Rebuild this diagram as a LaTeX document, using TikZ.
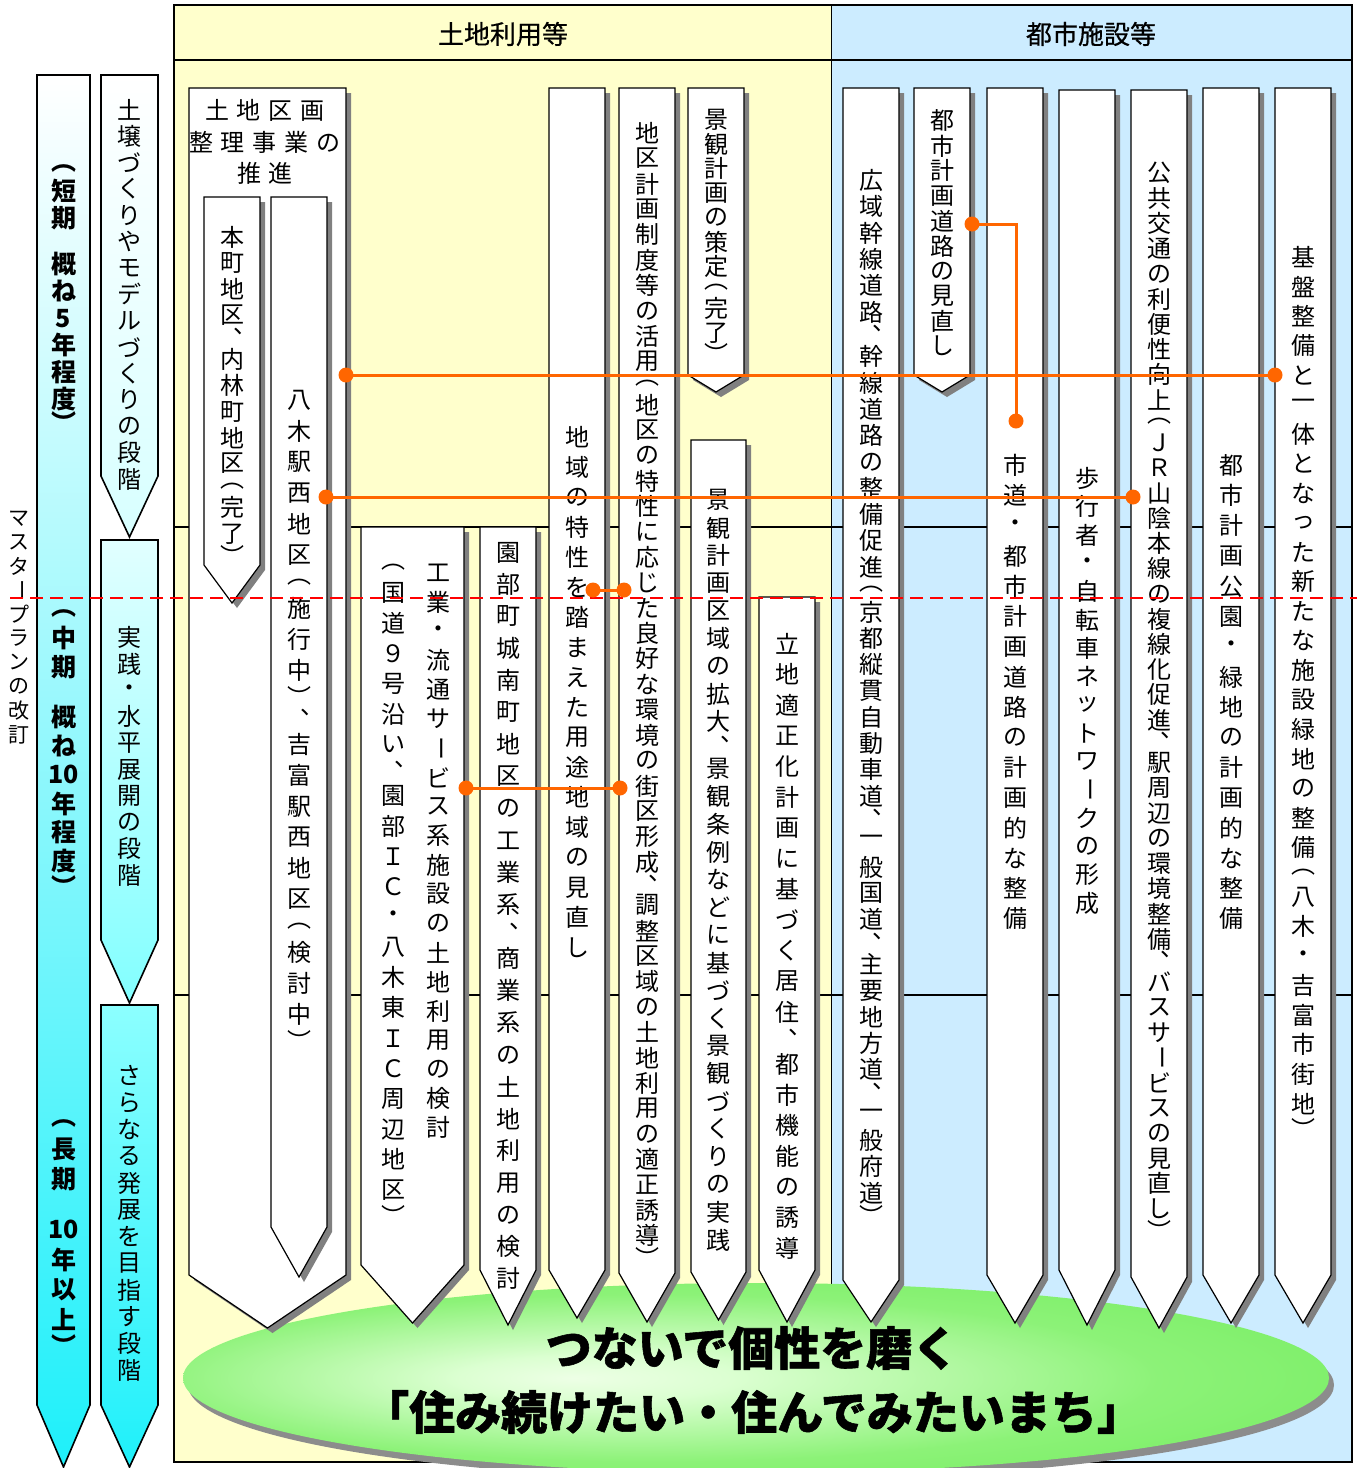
\documentclass[tikz,border=0pt]{standalone}
\usepackage{fontspec}
\setmainfont{Noto Sans CJK JP}
\usepackage{graphicx}
\usetikzlibrary{shadows}

\definecolor{ylw}{RGB}{255,255,204}
\definecolor{blu}{RGB}{204,236,255}
\definecolor{org}{RGB}{255,102,0}
\definecolor{cyn}{RGB}{30,240,250}

\newcommand\jLP{︵}
\newcommand\jRP{︶}
\newcommand\jVB{\rotatebox[origin=c]{-90}{ー}}
\newcommand\jSP{}
\newcommand\jCM{\hbox to 1em{\vrule width 0pt height 0.3em depth 0.3em\kern0.58em\smash{\raisebox{0.15em}{、}}\hss}}

\ExplSyntaxOn
\dim_new:N \l_vj_p_dim
\cs_new_protected:Npn \vj_cell:nn #1#2
  { \hbox_to_wd:nn {1.25em} { \hss \vbox_to_ht:nn {#1} { \vss \hbox:n {#2} \vss } \hss } }
\NewDocumentCommand \jvert { m m }
  {
    \dim_set:Nn \l_vj_p_dim { #1 pt / 2 }
    \vbox:n
      {
        \offinterlineskip
        \tl_map_inline:nn {#2}
          {
            \str_case:nnF {##1}
              {
                { \jLP } { \vj_cell:nn { 0.7\l_vj_p_dim } {##1} }
                { \jRP } { \vj_cell:nn { 0.7\l_vj_p_dim } {##1} }
                { \jCM } { \vj_cell:nn { 0.7\l_vj_p_dim } {##1} }
                { \jSP } { \vj_cell:nn { 0.7\l_vj_p_dim } {} }
              }
              { \vj_cell:nn { \l_vj_p_dim } {##1} }
          }
      }
  }
\NewDocumentCommand \jhcells { m m }
  { \tl_map_inline:nn {#2} { \hbox_to_wd:nn {#1} { \hss ##1 \hss } } }
\ExplSyntaxOff

\pgfdeclareradialshading{glow}{\pgfpoint{-8bp}{0bp}}{rgb(0bp)=(0.93,1,0.9);rgb(6bp)=(0.86,1,0.82);rgb(22bp)=(0.55,0.95,0.47);rgb(50bp)=(0.36,0.91,0.28)}

\newcommand\pent[6][colbox]{\path[#1] (#2,#4) -- (#3,#4) -- (#3,#5) -- ({(#2+#3)/2},#6) -- (#2,#5) -- cycle;}

\begin{document}
\begin{tikzpicture}[x=0.5pt,y=-0.5pt,
  colbox/.style={draw=black,line width=0.6pt,fill=white,
    drop shadow={shadow xshift=2.5pt,shadow yshift=-2.5pt,fill=black!50,opacity=1}},
  barbox/.style={draw=black,line width=0.8pt},
  vtxt/.style={inner sep=0pt,anchor=north,font=\fontsize{12pt}{14pt}\selectfont},
  btxt/.style={inner sep=0pt,anchor=north,font=\bfseries\fontsize{12.5pt}{14pt}\selectfont},
  hdr/.style={font=\fontsize{13pt}{15pt}\selectfont\addfontfeature{FakeBold=0.6}},
  conn/.style={draw=org,line width=1.5pt},
  slogan/.style={inner sep=0pt,font=\bfseries\fontsize{23pt}{27pt}\selectfont\addfontfeature{FakeBold=1.2}}]

\useasboundingbox (0,0) rectangle (1357,1468);

% frame and backgrounds
\fill[ylw] (174,5) rectangle (831,1462);
\fill[blu] (831,5) rectangle (1352,1462);
\draw[line width=0.75pt] (174,527) -- (1352,527);
\draw[line width=0.75pt] (174,995) -- (1352,995);
\draw[line width=0.5pt] (831,5) -- (831,1462);
\draw[line width=1.2pt] (174,60) -- (1352,60);
\draw[line width=1.2pt] (174,5) rectangle (1352,1462);
\node[hdr] (hdrL) at (503,34) {土地利用等};
\node[hdr] (hdrR) at (1091,34) {都市施設等};

% left bars
\pent[barbox,top color=white,middle color={rgb,255:red,190;green,255;blue,255},bottom color=cyn]{37}{90}{75}{1405}{1467}
\pent[barbox,top color=white,bottom color={rgb,255:red,215;green,255;blue,255}]{101}{158}{75}{476}{537}
\pent[barbox,top color={rgb,255:red,225;green,255;blue,255},bottom color={rgb,255:red,130;green,255;blue,255}]{101}{158}{540}{940}{1003}
\pent[barbox,top color={rgb,255:red,140;green,255;blue,255},bottom color=cyn]{101}{158}{1005}{1405}{1467}

\node[btxt] (tShort) at (63.5,158.5) {\jvert{27}{\jLP 短期\jSP 概ね5年程度\jRP}};
\node[btxt] (tMid) at (63.5,603) {\jvert{29}{\jLP 中期\jSP 概ね{10}年程度\jRP}};
\node[btxt] (tLong) at (63.5,1112.5) {\jvert{30}{\jLP 長期\jSP {10}年以上\jRP}};
\node[vtxt] (tS1) at (129.5,96) {\jvert{26.4}{土壌づくりやモデルづくりの段階}};
\node[vtxt] (tS2) at (129.5,624) {\jvert{26.4}{実践・水平展開の段階}};
\node[vtxt] (tS3) at (129.5,1062) {\jvert{26.8}{さらなる発展を目指す段階}};
\node[vtxt,font=\fontsize{10.5pt}{12pt}\selectfont] (tMP) at (19,506) {\jvert{24}{マスタ\jVB プランの改訂}};

% ellipse
\fill[black!45] (761,1385) ellipse [x radius=286.5pt,y radius=47.5pt];
\path[shading=glow] (756,1378) ellipse [x radius=286.5pt,y radius=47.5pt];

% columns
\pent{189}{346}{88}{1275}{1328}
\pent{204}{260}{197}{565}{603}
\pent{271}{327}{197}{1227}{1277}
\pent{361}{464}{527}{1265}{1323}
\pent{480}{536}{527}{1270}{1325}
\pent{549}{605}{88}{1270}{1318}
\pent{619}{675}{88}{1273}{1322}
\pent{688}{744}{88}{375}{392}
\pent{691}{746}{440}{1272}{1320}
\pent{759}{815}{597}{1270}{1322}
\pent{843}{899}{88}{1280}{1322}
\pent{914}{970}{88}{375}{392}
\pent{987}{1043}{88}{1275}{1323}
\pent{1059}{1115}{90}{1270}{1325}
\pent{1131}{1187}{90}{1277}{1328}
\pent{1203}{1259}{88}{1275}{1323}
\pent{1275}{1331}{88}{1275}{1323}

% column texts
\node[inner sep=0pt,align=center,font=\fontsize{12pt}{15.75pt}\selectfont] (tAh) at (265,142)
  {\jhcells{16pt}{土地区画}\\\jhcells{16pt}{整理事業の}\\\jhcells{16pt}{推進}};
\node[vtxt] (tA1) at (232,224) {\jvert{26}{本町地区\jCM 内林町地区\jLP 完了\jRP}};
\node[vtxt] (tA2) at (299,384.5) {\jvert{31}{八木駅西地区\jLP 施行中\jRP\jCM 吉富駅西地区\jLP 検討中\jRP}};
\node[vtxt] (tBr) at (438,558) {\jvert{29.2}{工業・流通サ\jVB ビス系施設の土地利用の検討}};
\node[vtxt] (tBl) at (393,556) {\jvert{30.3}{\jLP 国道９号沿い\jCM 園部ＩＣ・八木東ＩＣ周辺地区\jRP}};
\node[vtxt] (tC) at (508,536) {\jvert{32}{園部町城南町地区の工業系\jCM 商業系の土地利用の検討}};
\node[vtxt] (tD) at (577,422) {\jvert{30}{地域の特性を踏まえた用途地域の見直し}};
\node[vtxt] (tE) at (647,120) {\jvert{25.4}{地区計画制度等の活用\jLP 地区の特性に応じた良好な環境の街区形成\jCM 調整区域の土地利用の適正誘導\jRP}};
\node[vtxt] (tF) at (716,107) {\jvert{24.5}{景観計画の策定\jLP 完了\jRP}};
\node[vtxt] (tG) at (718.5,486) {\jvert{27.7}{景観計画区域の拡大\jCM 景観条例などに基づく景観づくりの実践}};
\node[vtxt] (tH) at (787,628) {\jvert{30.7}{立地適正化計画に基づく居住\jCM 都市機能の誘導}};
\node[vtxt] (tI) at (871,167) {\jvert{26.3}{広域幹線道路\jCM 幹線道路の整備促進\jLP 京都縦貫自動車道\jCM 一般国道\jCM 主要地方道\jCM 一般府道\jRP}};
\node[vtxt] (tJ) at (942,108) {\jvert{25}{都市計画道路の見直し}};
\node[vtxt] (tK) at (1015,450) {\jvert{30.2}{市道・都市計画道路の計画的な整備}};
\node[vtxt] (tL) at (1087,464) {\jvert{28.3}{歩行者・自転車ネットワ\jVB クの形成}};
\node[vtxt] (tM) at (1159,160) {\jvert{25.2}{公共交通の利便性向上\jLP ＪＲ山陰本線の複線化促進\jCM 駅周辺の環境整備\jCM バスサ\jVB ビスの見直し\jRP}};
\node[vtxt] (tN) at (1231,450) {\jvert{30.2}{都市計画公園・緑地の計画的な整備}};
\node[vtxt] (tO) at (1303,242) {\jvert{29.5}{基盤整備と一体となった新たな施設緑地の整備\jLP 八木・吉富市街地\jRP}};

% red dashed revision line
\coordinate (dl) at (10,598);
\coordinate (dr) at (1357,598);
\draw[red,line width=0.8pt,dash pattern=on 6.5pt off 3.5pt] (dl) -- (dr);

% orange connectors
\coordinate (cA) at (346,375);  \coordinate (cO) at (1275,375);
\coordinate (cA2) at (326,497); \coordinate (cM) at (1133,497);
\coordinate (cJ) at (972,224);  \coordinate (cK) at (1016,421);
\coordinate (cD) at (593,590);  \coordinate (cE1) at (624,590);
\coordinate (cB) at (466,788);  \coordinate (cE2) at (620,788);
\draw[conn] (cA) -- (cO);
\draw[conn] (cA2) -- (cM);
\draw[conn] (cJ) -| (cK);
\draw[conn] (cD) -- (cE1);
\draw[conn] (cB) -- (cE2);
\foreach \p in {cA,cO,cA2,cM,cJ,cK,cD,cE1,cB,cE2}
  \fill[org] (\p) circle[radius=3.75pt];

% slogan
\node[slogan] (slg1) at (752,1348) {つないで個性を磨く};
\node[slogan] (slg2) at (753,1412) {「住み続けたい・住んでみたいまち」};
\end{tikzpicture}
\end{document}
